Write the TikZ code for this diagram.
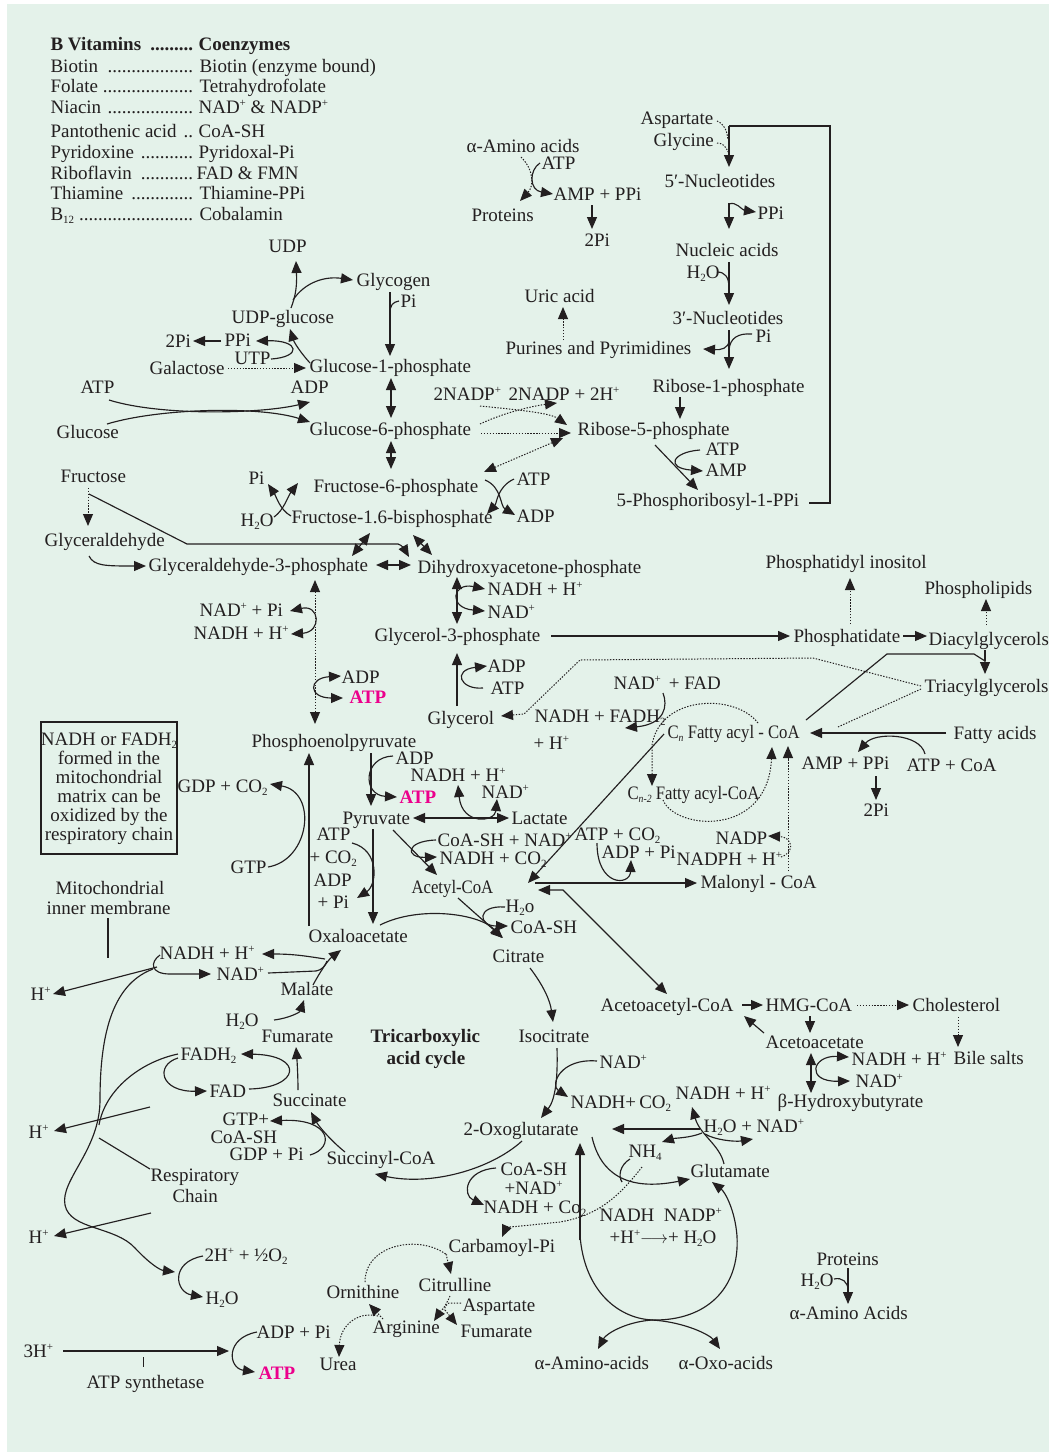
\documentclass[tikz,border=0pt]{standalone}
\usepackage{fontspec}
\setmainfont{Liberation Serif}
\usetikzlibrary{arrows.meta}
\definecolor{ink}{HTML}{231F20}
\definecolor{bgc}{HTML}{E4F2EA}
\definecolor{mag}{HTML}{EC008C}
\newcommand\up[1]{\raisebox{6.5pt}{\fontsize{11}{11}\selectfont #1}}
\newcommand\dn[1]{\raisebox{-3pt}{\fontsize{11}{11}\selectfont #1}}
\newcommand\cond[1]{\scalebox{0.88}[1]{#1}}
\newcommand\mATP{{\bfseries\color{mag}ATP}}
\newcommand\lrow[2]{\hbox to #1{#2\leaders\hbox{.}\hfill\kern1pt}}
\begin{document}
\begin{tikzpicture}[x=1pt,y=-1pt,>={Triangle[length=12pt,width=10pt]},line width=1.15pt,color=ink,
 t/.style={anchor=west,inner sep=0pt,text height=12.6pt,text depth=0pt,font=\fontsize{19}{22}\selectfont},
 hd/.style={t,font=\fontsize{19}{22}\selectfont\bfseries},
 dt/.style={dash pattern=on 1.4pt off 1.5pt,line width=1pt}]
\useasboundingbox (0,0) rectangle (1049,1452);
\fill[white] (0,0) rectangle (1049,1452);
\fill[bgc] (7,4) rectangle (1049,1452);
% ---------- legend
\node[hd] (lh1) at (50,44) {\lrow{147pt}{B Vitamins }};
\node[hd] (lh2) at (198,44) {Coenzymes};
\node[t] (l1a) at (50,66) {\lrow{147pt}{Biotin }};
\node[t] (l1b) at (199,66) {Biotin (enzyme bound)};
\node[t] (l2a) at (50,86) {\lrow{147pt}{Folate }};
\node[t] (l2b) at (199,86) {Tetrahydrofolate};
\node[t] (l3a) at (50,107) {\lrow{147pt}{Niacin }};
\node[t] (l3b) at (198,107) {NAD\up{+} \& NADP\up{+}};
\node[t] (l4a) at (50,131) {\lrow{147pt}{Pantothenic acid }};
\node[t] (l4b) at (198,131) {CoA-SH};
\node[t] (l5a) at (50,152) {\lrow{147pt}{Pyridoxine }};
\node[t] (l5b) at (198,152) {Pyridoxal-Pi};
\node[t] (l6a) at (50,173) {\lrow{147pt}{Riboflavin }};
\node[t] (l6b) at (196,173) {FAD \& FMN};
\node[t] (l7a) at (50,193) {\lrow{147pt}{Thiamine }};
\node[t] (l7b) at (199,193) {Thiamine-PPi};
\node[t] (l8a) at (50,214) {\lrow{147pt}{B\dn{12} }};
\node[t] (l8b) at (199,214) {Cobalamin};
% ---------- amino acids / proteins top
\node[t] (aa) at (466,146) {α-Amino acids};
\node[t] (atp1) at (541,163) {ATP};
\node[t] (amp1) at (553,194) {AMP + PPi};
\node[t] (prot1) at (471,215) {Proteins};
\node[t] (pi2a) at (584,240) {2Pi};
\draw[dt,->] (521,157) .. controls (534,170) and (534,186) .. (520,201);
\draw[->] (540,163) .. controls (529,170) and (529,190) .. (553,194);
\draw[->] (592,205) -- (592,229);
% ---------- nucleotides
\node[t] (asp) at (640,118) {Aspartate};
\node[t] (gly) at (653,140) {Glycine};
\draw (729,126) -- (830,126) -- (830,503) -- (809,503);
\draw[->] (729,126) -- (729,167);
\draw[dt] (717,121) .. controls (724,124) and (727,130) .. (728,140);
\draw[dt] (717,143) .. controls (722,143) and (726,146) .. (728,152);
\node[t] (nuc5) at (664,181) {5′-Nucleotides};
\draw[->] (729,203) -- (729,229);
\draw[->] (729,204) .. controls (736,201) and (742,210) .. (756,212);
\node[t] (ppi1) at (757,213) {PPi};
\node[t] (nuca) at (675,250) {Nucleic acids};
\node[t] (h2o1) at (686,272) {H\dn{2}O};
\draw[->] (729,262) -- (729,305);
\draw (717,272) .. controls (725,272) and (729,277) .. (729,288);
\node[t] (nuc3) at (672,318) {3′-Nucleotides};
\node[t] (pi1) at (755,336) {Pi};
\draw[->] (729,330) -- (729,369);
\draw (752,334) .. controls (738,333) and (730,338) .. (729,350);
\draw[->] (729,340) .. controls (729,349) and (720,350) .. (703,349);
\node[t] (pur) at (505,348) {Purines and Pyrimidines};
\node[t] (uric) at (524,296) {Uric acid};
\draw[dt,->] (563,340) -- (563,307);
\node[t] (r1p) at (652,386) {Ribose-1-phosphate};
\draw[->] (680,397) -- (680,419);
\node[t] (r5p) at (577,429) {Ribose-5-phosphate};
\node[t] (atp2) at (705,449) {ATP};
\node[t] (amp2) at (705,470) {AMP};
\draw[->] (655,445) -- (698,490);
\draw[->] (700,450) .. controls (672,452) and (665,468) .. (703,471);
\node[t] (prpp) at (616,500) {5-Phosphoribosyl-1-PPi};
% ---------- glycogen
\node[t] (udp) at (268,246) {UDP};
\node[t] (glyc) at (356,280) {Glycogen};
\node[t] (pi3) at (400,301) {Pi};
\node[t] (udpg) at (231,317) {UDP-glucose};
\draw[->] (291,308) .. controls (296,295) and (297,285) .. (296,261);
\draw[->] (293,300) .. controls (305,282) and (325,276) .. (353,280);
\draw[->] (390,292) -- (390,356);
\draw (399,301) .. controls (393,302) and (390,305) .. (390,313);
\node[t] (pi2b) at (165,341) {2Pi};
\node[t] (ppi2) at (224,340) {PPi};
\node[t] (utp) at (234,358) {UTP};
\draw[->] (221,341) -- (193,341);
\draw[->] (271,359) .. controls (302,357) and (300,340) .. (256,341);
\draw[->] (310,363) .. controls (300,352) and (294,342) .. (290,329);
\node[t] (gal) at (149,368) {Galactose};
\draw[dt,->] (228,368) -- (306,368);
\node[t] (g1p) at (309,366) {Glucose-1-phosphate};
\draw[<->] (391,378) -- (391,418);
\node[t] (atp3) at (80,387) {ATP};
\node[t] (adp3) at (290,387) {ADP};
\node[t] (glc) at (56,432) {Glucose};
\node[t] (g6p) at (309,429) {Glucose-6-phosphate};
\draw[->] (109,400) .. controls (160,416) and (260,414) .. (310,402);
\draw[->] (107,424) .. controls (160,408) and (260,406) .. (310,422);
\draw[<->] (391,441) -- (391,469);
\node[t] (nadp1) at (433,394) {2NADP\up{+}};
\node[t] (nadp2) at (508,394) {2NADP + 2H\up{+}};
\draw[dt,->] (480,406) .. controls (520,410) and (550,413) .. (567,425);
\draw[dt,->] (480,424) .. controls (510,410) and (540,405) .. (557,403);
\draw[dt,->] (481,433) -- (571,433);
\draw[dt,<->] (484,472) -- (563,438);
\node[t] (f6p) at (313,486) {Fructose-6-phosphate};
\node[t] (pi4) at (248,478) {Pi};
\node[t] (h2o2) at (240,520) {H\dn{2}O};
\node[t] (f16) at (291,517) {Fructose-1.6-bisphosphate};
\draw[->] (274,517) .. controls (284,510) and (288,496) .. (298,483);
\draw[->] (291,516) .. controls (280,510) and (276,496) .. (268,484);
\node[t] (atp4) at (516,479) {ATP};
\node[t] (adp4) at (516,516) {ADP};
\draw[->] (485,480) .. controls (502,487) and (500,506) .. (515,515);
\draw[->] (514,479) .. controls (497,487) and (497,503) .. (487,514);
\node[t] (fru) at (60,476) {Fructose};
\draw[dt,->] (88,488) -- (88,526);
\draw[->] (89,494) -- (187,544) -- (398,544) .. controls (402,545) and (405,550) .. (409,557);
\node[t] (glyald) at (44,540) {Glyceraldehyde};
\node[t] (gap) at (148,565) {Glyceraldehyde-3-phosphate};
\draw[->] (89,556) .. controls (94,566) and (105,566) .. (146,566);
\draw[<->] (370,533) -- (352,556);
\draw[<->] (413,535) -- (432,555);
\draw[<->] (376,565) -- (411,565);
\node[t] (dhap) at (417,567) {Dihydroxyacetone-phosphate};
\draw[<->] (457,577) -- (457,624);
\draw[<->] (485,589) .. controls (452,582) and (448,608) .. (485,611);
\node[t] (nadh2) at (487,589) {NADH + H\up{+}};
\node[t] (nad2) at (487,612) {NAD\up{+}};
\node[t] (g3p) at (374,635) {Glycerol-3-phosphate};
\draw[->] (551,636) -- (790,636);
\node[t] (pa) at (793,636) {Phosphatidate};
\node[t] (pinos) at (765,562) {Phosphatidyl inositol};
\draw[dt,->] (850,624) -- (850,578);
\node[t] (dag) at (928,639) {Diacylglycerols};
\draw[->] (903,636) -- (927,636);
\node[t] (pl) at (924,588) {Phospholipids};
\draw[dt,->] (986,625) -- (986,599);
\node[t] (tag) at (924,686) {Triacylglycerols};
\draw[->] (806,720) -- (887,654) -- (974,654) -- (985,661) -- (985,674);
\draw (985,650) -- (985,661);
\draw[dt,->] (921,686) -- (813,658) -- (580,660) -- (524,714) -- (501,716);
\draw[dt] (921,689) -- (838,727);
\node[t] (glycerol) at (427,718) {Glycerol};
\draw[->] (457,706) -- (457,653);
\node[t] (adp5) at (487,666) {ADP};
\node[t] (atp5) at (490,688) {ATP};
\draw[->] (483,688) .. controls (460,690) and (452,670) .. (487,666);
% ---------- fatty acids
\node[t] (nadfad) at (613,683) {NAD\up{+} \,+ FAD};
\node[t] (nadhfadh) at (534,716) {NADH + FADH\dn{2}};
\node[t] (ph) at (533,743) {+ H\up{+}};
\node[t] (cnfa) at (667,732) {\cond{C\dn{\textit{n}} Fatty acyl - CoA}};
\draw[->] (663,693) .. controls (668,706) and (665,724) .. (625,728);
\node[t] (cn2) at (627,793) {\cond{C\dn{\textit{n-2}} Fatty acyl-CoA}};
\draw[dt,->] (758,723) .. controls (735,693) and (660,695) .. (652,745) -- (652,786);
\draw[dt,->] (663,800) .. controls (675,830) and (768,838) .. (772,747);
\node[t] (fa) at (953,733) {Fatty acids};
\draw[->] (946,733) -- (810,733);
\node[t] (amp3) at (801,763) {AMP + PPi};
\node[t] (atpcoa) at (906,765) {ATP + CoA};
\draw[->] (925,754) .. controls (920,733) and (875,732) .. (858,752);
\node[t] (pi2c) at (863,810) {2Pi};
\draw[->] (876,776) -- (876,800);
\node[t] (nadp3) at (715,838) {NADP};
\node[t] (nadph) at (676,859) {NADPH + H\up{+}};
\draw[dt,->] (788,871) -- (788,746);
\draw[dt,->] (781,857) .. controls (796,852) and (792,837) .. (768,836);
\node[t] (mal) at (700,882) {Malonyl - CoA};
\node[t] (atpco2) at (574,834) {ATP + CO\dn{2}};
\node[t] (adppi) at (601,852) {ADP + Pi};
\draw[->] (535,883) -- (697,883);
\draw[->] (597,843) .. controls (597,887) and (630,886) .. (631,860);
\draw[<->] (538,890) -- (563,890) -- (667,994);
\draw[->] (664,734) -- (528,883);
% ---------- glycolysis lower
\node[t] (nadpi) at (199,610) {NAD\up{+} + Pi};
\node[t] (nadh3) at (193,633) {NADH + H\up{+}};
\draw[dt,<->] (315,580) -- (315,724);
\draw[<->] (290,611) .. controls (320,604) and (322,632) .. (291,634);
\node[t] (adp6) at (341,677) {ADP};
\node[t] (atp6) at (349,697) {\mATP};
\draw[<->] (341,676) .. controls (308,678) and (308,698) .. (343,698);
\node[t] (pep) at (251,741) {Phosphoenolpyruvate};
\draw[->] (309,926) -- (309,753);
\node[t] (gdp) at (177,786) {GDP + CO\dn{2}};
\node[t] (gtp) at (230,867) {GTP};
\draw[->] (268,867) .. controls (310,860) and (318,792) .. (270,784);
\node[t] (adp7) at (395,758) {ADP};
\node[t] (atp7) at (399,797) {\mATP};
\node[t] (nadh4) at (410,775) {NADH + H\up{+}};
\node[t] (nad4) at (481,792) {NAD\up{+}};
\draw[->] (371,753) -- (371,806);
\draw[->] (393,756) .. controls (363,757) and (362,795) .. (397,797);
\node[t] (pyr) at (342,818) {Pyruvate};
\node[t] (lac) at (511,818) {Lactate};
\draw[<->] (413,818) -- (509,818);
\draw[<->] (458,785) .. controls (462,826) and (495,822) .. (497,799);
\node[t] (atp8) at (316,834) {ATP};
\node[t] (co2a) at (309,857) {+ CO\dn{2}};
\node[t] (adp8) at (313,880) {ADP};
\node[t] (pi5) at (317,902) {+ Pi};
\draw[->] (373,829) -- (373,924);
\draw[->] (352,843) .. controls (380,850) and (377,885) .. (357,898);
\node[t] (oaa) at (308,936) {Oxaloacetate};
\node[t] (coash) at (437,840) {CoA-SH + NAD\up{+}};
\node[t] (nadhco2) at (439,858) {NADH + CO\dn{2}};
\draw[->] (393,830) -- (437,875);
\draw[->] (436,840) .. controls (405,841) and (405,858) .. (437,857);
\node[t] (acoa) at (411,887) {\cond{Acetyl-CoA}};
\draw[->] (458,898) -- (503,938);
\draw[->] (380,925) .. controls (420,905) and (480,914) .. (502,938);
\node[t] (h2oo) at (505,906) {H\dn{2}o};
\node[t] (coash2) at (510,927) {CoA-SH};
\draw[->] (505,907) .. controls (476,905) and (478,926) .. (508,926);
\node[t] (cit) at (492,956) {Citrate};
\draw[->] (530,968) .. controls (543,985) and (550,1000) .. (553,1022);
\node[t] (icit) at (518,1036) {Isocitrate};
\node[hd] (tca1) at (370,1036) {Tricarboxylic};
\node[hd] (tca2) at (386,1058) {acid cycle};
\node[t] (nad5) at (599,1062) {NAD\up{+}};
\node[t] (nadhco2b) at (570,1102) {NADH+\,CO\dn{2}};
\draw[->] (557,1048) .. controls (558,1080) and (555,1100) .. (541,1118);
\draw[->] (597,1061) .. controls (560,1058) and (550,1085) .. (568,1097);
\node[t] (oxo) at (463,1129) {2-Oxoglutarate};
\node[t] (sucoa) at (326,1158) {Succinyl-CoA};
\draw[->] (522,1141) .. controls (490,1170) and (430,1186) .. (375,1174);
\node[t] (coash3) at (500,1169) {CoA-SH};
\node[t] (nad6) at (504,1188) {+NAD\up{+}};
\node[t] (nadhco) at (483,1207) {NADH + Co\dn{2}};
\draw[->] (496,1168) .. controls (465,1170) and (462,1195) .. (484,1205);
\node[t] (succ) at (272,1100) {Succinate};
\draw[->] (345,1152) .. controls (330,1140) and (318,1125) .. (311,1112);
\node[t] (gtpp) at (222,1119) {GTP+};
\node[t] (coash4) at (210,1137) {CoA-SH};
\node[t] (gdppi) at (229,1154) {GDP + Pi};
\draw[->] (310,1155) .. controls (335,1148) and (332,1118) .. (270,1121);
\node[t] (fum) at (261,1036) {Fumarate};
\draw[->] (298,1090) .. controls (298,1075) and (297,1060) .. (296,1047);
\node[t] (fadh) at (180,1054) {FADH\dn{2}};
\node[t] (fad) at (209,1091) {FAD};
\draw[->] (249,1089) .. controls (300,1088) and (305,1055) .. (241,1054);
\draw[->] (178,1058) .. controls (155,1065) and (160,1092) .. (207,1091);
\node[t] (malate) at (280,989) {Malate};
\node[t] (h2o5) at (225,1020) {H\dn{2}O};
\draw[->] (274,1020) .. controls (290,1018) and (300,1012) .. (304,1000);
\draw[->] (313,985) .. controls (320,972) and (328,960) .. (341,950);
% ---------- respiratory chain side
\draw (41,722) rectangle (177,854);
\node[align=center,inner sep=0pt,anchor=north,font=\fontsize{19}{19.1}\selectfont] (box) at (109,732)
 {NADH or FADH\dn{2}\\formed in the\\mitochondrial\\matrix can be\\oxidized by the\\respiratory chain};
\node[t] (mim1) at (55,888) {Mitochondrial};
\node[t] (mim2) at (46,908) {inner membrane};
\draw (108,918) -- (108,958);
\node[t] (nadh5) at (159,953) {NADH + H\up{+}};
\node[t] (nad7) at (216,974) {NAD\up{+}};
\draw[->] (325,959) .. controls (300,955) and (290,954) .. (262,954);
\draw (268,973) -- (316,971) .. controls (322,970) and (325,966) .. (327,961);
\draw[->] (160,955) .. controls (150,962) and (150,974) .. (170,974) -- (211,974);
\node[t] (h1) at (30,994) {H\up{+}};
\draw[->] (157,967) -- (53,994);
\draw[->] (153,969) .. controls (110,985) and (100,1040) .. (100,1100) .. controls (100,1150) and (60,1180) .. (65,1205) .. controls (70,1230) and (115,1226) .. (135,1248) .. controls (150,1264) and (160,1270) .. (175,1272);
\draw (178,1054) .. controls (140,1062) and (105,1090) .. (99,1125);
\node[t] (h2) at (28,1132) {H\up{+}};
\draw[->] (150,1107) -- (54,1131);
\node[t] (rc1) at (150,1175) {Respiratory};
\node[t] (rc2) at (172,1196) {Chain};
\draw (150,1169) -- (99,1138);
\node[t] (h3) at (28,1237) {H\up{+}};
\draw[->] (151,1213) -- (54,1236);
\node[t] (o2) at (204,1255) {2H\up{+} + ½O\dn{2}};
\node[t] (h2o3) at (205,1298) {H\dn{2}O};
\draw[->] (203,1256) .. controls (170,1262) and (175,1292) .. (203,1297);
\node[t] (h3p) at (23,1351) {3H\up{+}};
\draw[->] (63,1351) -- (229,1351);
\draw[line width=0.9pt] (143,1357) -- (143,1367);
\node[t] (atps) at (86,1382) {ATP synthetase};
\node[t] (adppi2) at (256,1332) {ADP + Pi};
\node[t] (atp9) at (258,1373) {\mATP};
\draw[->] (257,1332) .. controls (225,1338) and (228,1368) .. (255,1372);
% ---------- urea cycle
\node[t] (carb) at (448,1246) {Carbamoyl-Pi};
\node[t] (cit2) at (418,1285) {Citrulline};
\node[t] (orn) at (326,1292) {Ornithine};
\node[t] (asp2) at (462,1305) {Aspartate};
\node[t] (arg) at (372,1327) {Arginine};
\node[t] (fum2) at (460,1331) {Fumarate};
\node[t] (urea) at (319,1364) {Urea};
\draw[dt,->] (446,1254) -- (451,1274);
\draw[dt] (365,1282) .. controls (365,1244) and (420,1234) .. (447,1255);
\draw[dt,->] (450,1296) .. controls (445,1308) and (440,1312) .. (434,1321);
\draw[dt] (461,1303) -- (449,1303) .. controls (446,1305) .. (444,1310);
\draw[dt,->] (445,1310) -- (457,1325);
\draw[dt,->] (383,1319) -- (369,1304);
\draw[dt,->] (378,1316) .. controls (358,1311) and (340,1325) .. (339,1357);
\draw[dt,->] (642,1167) .. controls (620,1195) and (600,1215) .. (560,1222) .. controls (520,1226) and (506,1228) .. (502,1237);
% ---------- glutamate
\node[t] (nh4) at (628,1151) {NH\dn{4}};
\node[t] (glu) at (690,1171) {Glutamate};
\node[t] (h2onad) at (703,1126) {H\dn{2}O + NAD\up{+}};
\node[t] (nadh6) at (675,1093) {NADH + H\up{+}};
\node[t] (bhb) at (777,1101) {β-Hydroxybutyrate};
\node[t] (nn1) at (599,1215) {NADH \ NADP\up{+}};
\node[t] (nn2) at (609,1237) {+H\up{+}$\longrightarrow$+ H\dn{2}O};
\draw[->] (580,1240) -- (580,1143);
\draw[->] (580,1235) .. controls (584,1292) and (620,1320) .. (655,1320) .. controls (705,1320) and (740,1290) .. (737,1236) .. controls (735,1210) and (725,1192) .. (712,1182);
\draw[->] (652,1320) .. controls (625,1322) and (606,1334) .. (598,1349);
\draw[->] (652,1320) .. controls (685,1322) and (710,1335) .. (720,1349);
\node[t] (aminoacids) at (534,1363) {α-Amino-acids};
\node[t] (oxoacids) at (678,1363) {α-Oxo-acids};
\draw[->] (700,1129) -- (612,1129);
\draw[->] (592,1137) .. controls (600,1172) and (625,1192) .. (690,1179);
\draw[->] (724,1164) .. controls (720,1145) and (700,1135) .. (692,1107);
\draw[->] (702,1133) .. controls (690,1138) and (675,1138) .. (662,1142);
\draw[->] (705,1134) .. controls (715,1140) and (735,1142) .. (753,1139);
\draw (630,1159) .. controls (620,1165) and (618,1176) .. (622,1182);
% ---------- ketone bodies
\node[t] (acacoa) at (600,1005) {Acetoacetyl-CoA};
\node[t] (hmg) at (765,1005) {HMG-CoA};
\draw[->] (742,1005) -- (763,1005);
\node[t] (chol) at (912,1005) {Cholesterol};
\draw[dt,->] (857,1005) -- (909,1005);
\draw[dt,->] (958,1017) -- (958,1047);
\node[t] (bile) at (953,1058) {Bile salts};
\node[t] (acac) at (765,1042) {Acetoacetate};
\draw[->] (810,1016) -- (810,1033);
\draw[->] (764,1033) -- (744,1016);
\draw[<->] (811,1053) -- (811,1093);
\node[t] (nadh7) at (851,1059) {NADH + H\up{+}};
\node[t] (nad8) at (855,1081) {NAD\up{+}};
\draw[<->] (849,1057) .. controls (812,1055) and (805,1082) .. (850,1081);
% ---------- proteins right
\node[t] (prot2) at (816,1259) {Proteins};
\node[t] (h2o4) at (800,1280) {H\dn{2}O};
\draw[->] (848,1268) -- (848,1304);
\draw (834,1279) .. controls (842,1277) and (848,1282) .. (848,1290);
\node[t] (aaa) at (789,1313) {α-Amino Acids};
\end{tikzpicture}
\end{document}
